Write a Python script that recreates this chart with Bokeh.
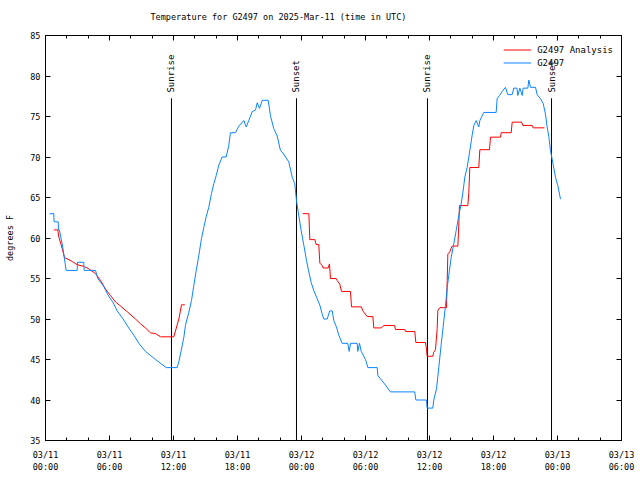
import math
from bokeh.plotting import figure
from bokeh.models import (FixedTicker, LinearAxis, Legend, LegendItem, Range1d, ColumnDataSource,
                          CustomLabelingPolicy)
from bokeh.core.properties import value
from bokeh.embed import file_html
from bokeh.resources import INLINE

title_text = "Temperature for G2497 on 2025-Mar-11 (time in UTC)"
y_label = "degrees F"

# hours since 2025-03-11 00:00 UTC
obs_hours = [0.375, 0.78, 0.8, 1.19, 1.22, 1.3, 1.6, 1.94, 2.97, 3.0, 3.59, 3.62, 4.69, 4.9, 5.47,
             5.84, 6.35, 6.72, 7.28, 7.75, 8.28, 8.75, 9.37, 10.31, 11.32, 12.35, 12.5, 12.75, 12.97,
             13.12, 13.43, 13.69, 13.9, 14.13, 14.37, 14.62, 14.84, 15.06, 15.31, 15.56, 15.78, 16.0,
             16.25, 16.56, 16.94, 17.18, 17.34, 17.81, 18.12, 18.59, 18.82, 19.06, 19.38, 19.69, 19.85,
             20.06, 20.32, 20.88, 21.09, 21.4, 21.72, 22.03, 22.19, 22.5, 22.81, 23.13, 23.37, 23.53,
             23.75, 23.97, 24.22, 24.47, 24.69, 24.91, 25.15, 25.41, 25.72, 25.94, 26.09, 26.41, 26.65,
             26.88, 27.03, 27.28, 27.5, 27.81, 28.34, 28.47, 28.6, 29.22, 29.28, 29.44, 29.6, 30.0,
             30.22, 31.1, 31.16, 31.78, 32.34, 34.62, 34.72, 35.72, 35.78, 36.31, 36.4, 36.66, 36.87,
             37.1, 37.28, 37.5, 37.66, 37.81, 38.03, 38.28, 38.5, 38.75, 38.97, 39.16, 39.31, 39.53,
             39.78, 40.0, 40.16, 40.38, 40.62, 40.72, 41.09, 42.25, 42.34, 42.56, 42.81, 43.12, 43.34,
             43.75, 43.9, 44.2, 44.28, 44.47, 44.69, 44.78, 45.22, 45.31, 45.47, 45.94, 46.09, 46.41,
             46.66, 46.87, 47.03, 47.19, 47.34, 47.59, 47.81, 48.03, 48.28]
obs_temp = [63, 63, 62, 62, 61, 61, 59, 56, 56, 57, 57, 56, 56, 55, 54,
            53, 52, 51, 50, 49, 48, 47, 46, 45, 44, 44, 44.7, 46.3, 47.75,
            49.2, 50.8, 52.3, 54.1, 56, 57.8, 59.9, 61.3, 62.6, 63.8, 65.5, 66.7, 67.7,
            69, 70, 70, 71.4, 73, 73, 73.8, 74.5, 73.7, 74.5, 75.6, 75.8, 76.7,
            76, 77, 77, 75.1, 73.5, 72.6, 70.8, 70.6, 70, 69.4, 67.5, 66.7, 64.6,
            62.7, 60.9, 59.1, 57.2, 55.8, 54.5, 53.5, 52.7, 51.7, 50.6, 50, 50, 51,
            51, 49.8, 49, 48, 47, 47, 46, 47, 47, 46, 47, 46, 45,
            44, 44, 43, 42, 41, 41, 40, 40, 39, 39, 40, 41.4, 44,
            46.9, 49, 51.7, 53.9, 55.4, 57.6, 59.3, 60.9, 62.8, 64.2, 65.9, 67.5, 68.7,
            70.8, 72.7, 73.9, 74.5, 73.7, 74.5, 75.5, 75.5, 77.2, 77.6, 78.1, 78.6, 77.7,
            77.7, 78.5, 78.5, 77.6, 78.5, 77.6, 78.5, 78.5, 79.5, 78.6, 78.6, 77.7, 77.2,
            76.6, 75.3, 73.7, 72.5, 70.8, 69.1, 67.5, 66.5, 64.8]

nan = float("nan")
ana_hours = [0.78, 1.15, 1.25, 1.57, 1.78, 2.5, 2.97, 3.59, 4.06, 4.69, 5.16, 5.62, 6.09, 6.56, 6.94,
             7.66, 8.44, 8.91, 9.37, 9.84, 10.31, 10.78, 12.03, 12.5, 12.75, 13.06, 18.0,
             24.12, 24.69, 24.78, 25.25, 25.37, 25.62, 25.72, 25.94, 26.03, 26.5, 26.62, 26.72, 27.25,
             27.34, 27.59, 27.75, 28.59, 28.69, 29.62, 29.75, 30.16, 30.69, 30.78, 31.47, 31.72, 32.72,
             32.81, 33.69, 33.75, 34.62, 34.72, 35.62, 35.72, 35.78, 36.31, 36.4, 36.56, 36.72, 36.78,
             36.97, 37.59, 37.66, 37.72, 37.9, 38.03, 38.13, 38.66, 38.75, 38.81, 39.59, 39.68, 39.78,
             40.62, 40.72, 41.62, 41.72, 42.66, 42.72, 43.66, 43.75, 44.63, 44.75, 45.63, 45.72, 46.78]
ana_temp = [61, 61, 60.1, 58.7, 57.6, 57.1, 56.7, 56.5, 56.2, 55.6, 54.75, 53.7, 52.9, 52.1, 51.7,
            50.9, 50.0, 49.4, 48.9, 48.3, 48.2, 47.8, 47.8, 50.0, 51.75, 51.75, nan,
            63, 63, 59.8, 59.8, 59.2, 59.2, 56.9, 56.6, 56.3, 56.3, 56.8, 55.0, 55.0,
            54.75, 54.3, 53.4, 53.4, 51.5, 51.5, 51.0, 50.3, 50.3, 48.9, 48.9, 49.2, 49.2,
            48.7, 48.7, 48.45, 48.45, 47.1, 47.1, 46.3, 45.4, 45.4, 45.9, 46.2, 48.8, 51.05,
            51.4, 51.4, 54.75, 58.05, 58.25, 58.75, 59.0, 59.0, 61.75, 64.0, 64.0, 65.45, 68.7,
            68.7, 70.9, 70.9, 72.45, 72.45, 73.0, 73.0, 74.3, 74.3, 73.9, 73.9, 73.6, 73.6]

sun_hours = [11.81, 23.53, 35.81, 47.44]
sun_labels = ["Sunrise", "Sunset", "Sunrise", "Sunset"]

x_ticks = [0, 6, 12, 18, 24, 30, 36, 42, 48, 54]
x_minor = [h for h in range(0, 55, 2) if h % 6 != 0]
x_tick_labels = ["03/11\n00:00", "03/11\n06:00", "03/11\n12:00", "03/11\n18:00",
                 "03/12\n00:00", "03/12\n06:00", "03/12\n12:00", "03/12\n18:00",
                 "03/13\n00:00", "03/13\n06:00"]
y_ticks = [35, 40, 45, 50, 55, 60, 65, 70, 75, 80, 85]

FONT = "DejaVu Sans Mono"
FS = "8.5px"
RED = "#ff0000"
BLUE = "#0a84ff"

p = figure(width=640, height=480, output_backend="svg", toolbar_location=None,
           x_range=Range1d(0, 54), y_range=Range1d(35, 85),
           min_border_left=45, min_border_right=19, min_border_top=35, min_border_bottom=40,
           x_axis_location=None, y_axis_location=None)
p.grid.visible = False
p.outline_line_color = "black"
p.outline_line_width = 1
p.background_fill_color = "white"
p.border_fill_color = "white"

p.title.text = title_text
p.title.text_font = FONT
p.title.text_font_size = FS
p.title.text_font_style = "normal"
p.title.text_color = "black"
p.title.align = "left"
p.title.offset = 105
p.title.standoff = 8

no_labels = CustomLabelingPolicy(code="""
for (const i of Array.from(indices)) { indices.unset(i) }
return indices
""")


def style_axis(ax, show_labels):
    ax.axis_line_color = "black"
    ax.major_tick_in = 5
    ax.major_tick_out = 0
    ax.minor_tick_in = 3
    ax.minor_tick_out = 0
    ax.major_tick_line_color = "black"
    ax.minor_tick_line_color = "black"
    ax.major_label_text_font = FONT
    ax.major_label_text_font_size = FS
    ax.major_label_text_color = "black"
    ax.axis_label_text_font = FONT
    ax.axis_label_text_font_size = FS
    ax.axis_label_text_font_style = "normal"
    ax.axis_label_text_color = "black"
    if not show_labels:
        ax.major_label_policy = no_labels
        ax.major_label_standoff = 0


xt = FixedTicker(ticks=x_ticks, minor_ticks=x_minor)
yt = FixedTicker(ticks=y_ticks, minor_ticks=[])

xb = LinearAxis(ticker=xt)
style_axis(xb, True)
xb.major_label_overrides = {t: lab for t, lab in zip(x_ticks, x_tick_labels)}
xb.major_label_standoff = 9
p.add_layout(xb, "below")

xa = LinearAxis(ticker=xt)
style_axis(xa, False)
p.add_layout(xa, "above")

yl = LinearAxis(ticker=yt, axis_label=y_label)
style_axis(yl, True)
yl.major_label_standoff = 5
yl.axis_label_standoff = 12
p.add_layout(yl, "left")

yr = LinearAxis(ticker=yt)
style_axis(yr, False)
p.add_layout(yr, "right")

# sunrise / sunset markers
sun_src = ColumnDataSource(dict(x=sun_hours, y0=[35] * 4, y1=[77.25] * 4, ty=[77.95] * 4, label=sun_labels))
p.segment(x0="x", y0="y0", x1="x", y1="y1", source=sun_src, line_color="black", line_width=1)
p.text(x="x", y="ty", text="label", source=sun_src, angle=math.pi / 2,
       text_align="left", text_baseline="middle", text_font=value(FONT),
       text_font_size="9px", text_color="black")

r_ana = p.line(ana_hours, ana_temp, line_color=RED, line_width=1)
r_obs = p.line(obs_hours, obs_temp, line_color=BLUE, line_width=1)

legend = Legend(items=[LegendItem(label="G2497 Analysis", renderers=[r_ana]),
                       LegendItem(label="G2497", renderers=[r_obs])],
                location="top_right", background_fill_alpha=0, border_line_alpha=0,
                label_text_font=FONT, label_text_font_size="9px", label_text_color="black",
                glyph_width=28, glyph_height=13, label_height=13, spacing=0,
                padding=2, margin=6, label_standoff=6)
p.add_layout(legend)

open("out.html", "w").write(file_html(p, INLINE))
